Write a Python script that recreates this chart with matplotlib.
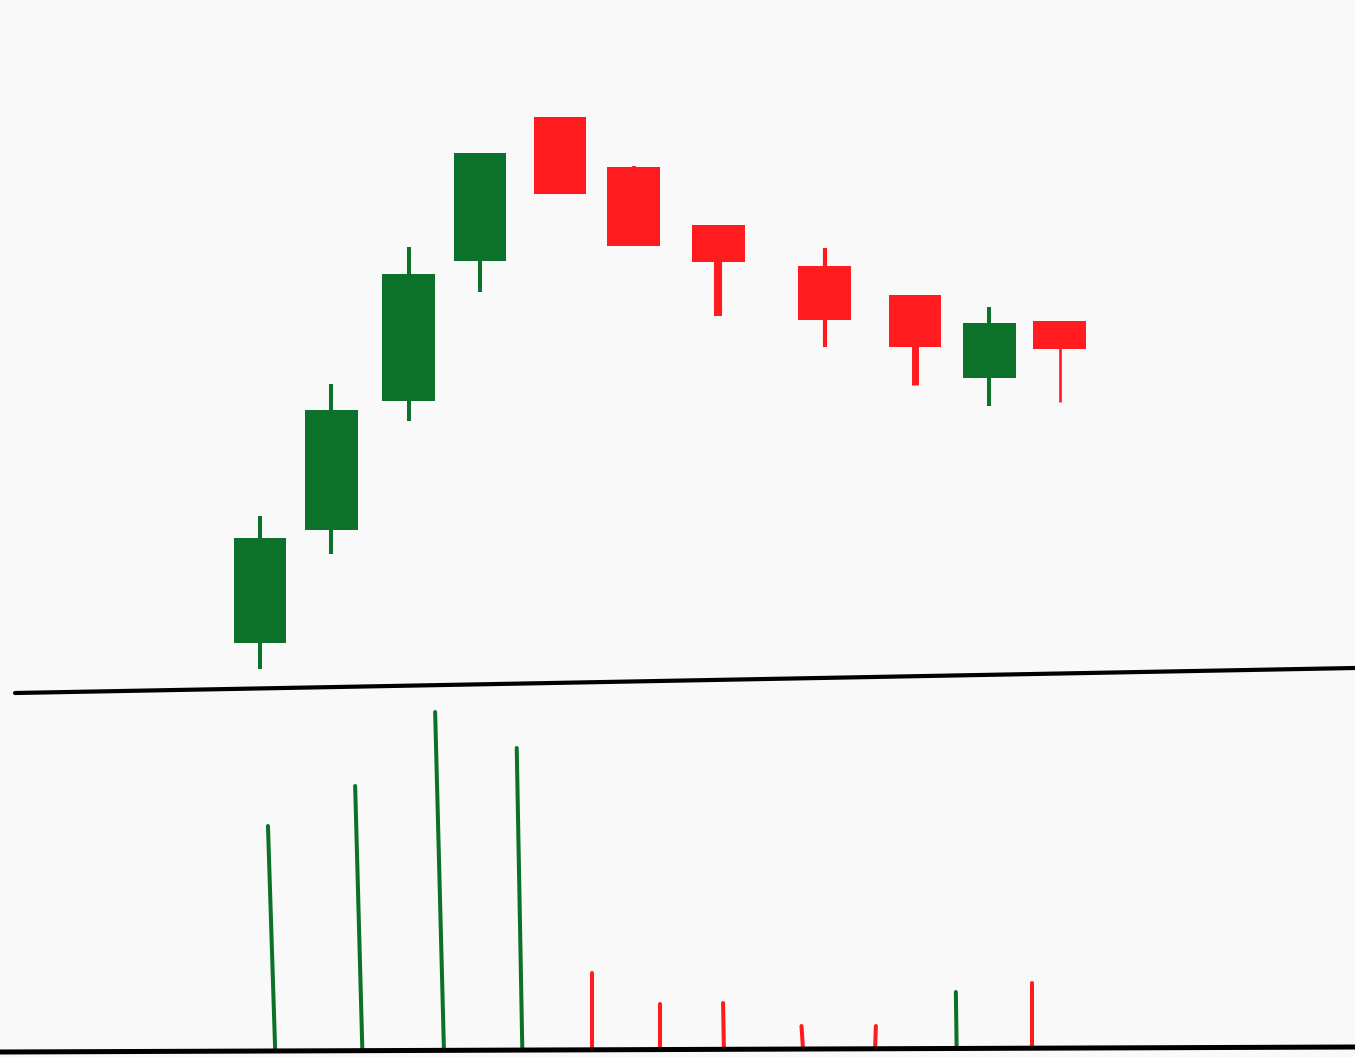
"""Candlestick chart with a volume panel underneath."""

import matplotlib

matplotlib.use("Agg")
import matplotlib.pyplot as plt
from matplotlib.collections import LineCollection
from matplotlib.lines import Line2D

GREEN = "#0c7229"
RED = "#ff1b1e"
BG = "#f9f9f9"

# session positions (in days) for the candles
price_x = [0.0, 0.89, 1.86, 2.75, 3.75, 4.67, 5.73, 7.06, 8.19, 9.12, 10.0]
# the volume sticks are drawn a little skewed: foot and tip positions
volume_x_foot = [0.19, 1.28, 2.30, 3.28, 4.15, 5.0, 5.8, 6.79, 7.69, 8.71, 9.65]
volume_x_tip = [0.10, 1.19, 2.19, 3.21, 4.15, 5.0, 5.79, 6.77, 7.70, 8.70, 9.65]

opens = [104.7, 116.0, 128.9, 142.9, 157.3, 152.3, 146.5, 142.4, 139.5, 131.2, 136.9]
highs = [117.4, 130.6, 144.3, 153.7, 157.3, 152.4, 146.5, 144.2, 139.5, 138.3, 136.9]
lows = [102.1, 113.6, 126.9, 139.8, 149.6, 144.4, 137.4, 134.3, 130.5, 128.4, 128.8]
closes = [115.2, 128.0, 141.6, 153.7, 149.6, 144.4, 142.8, 137.0, 134.3, 136.7, 134.1]

volumes = [2240, 2640, 3380, 3020, 770, 460, 470, 240, 240, 580, 670]

# wick thickness per candle (points), the hand-drawn look varies a bit
wick_widths = [2.9, 2.9, 2.9, 2.9, 2.9, 2.9, 5.8, 3.0, 5.0, 2.9, 1.9]

X_LIMITS = (-3.25, 13.69)

fig = plt.figure(figsize=(13.55, 10.57), dpi=100, facecolor=BG)

ax = fig.add_axes([0, 1 - 690 / 1057, 1, 690 / 1057])
ax.set_facecolor(BG)
ax.set_xlim(*X_LIMITS)
ax.set_ylim(100, 169)
ax.axis("off")

colors = [GREEN if c >= o else RED for o, c in zip(opens, closes)]

wicks = ax.vlines(price_x, lows, highs, colors=colors, linewidths=wick_widths, zorder=1)
wicks.set_capstyle("butt")

ax.bar(
    price_x,
    [abs(c - o) for o, c in zip(opens, closes)],
    bottom=[min(o, c) for o, c in zip(opens, closes)],
    width=0.66,
    color=colors,
    linewidth=0,
    zorder=2,
)

vax = fig.add_axes([0, 7 / 1057, 1, 350 / 1057])
vax.set_facecolor("none")
vax.set_xlim(*X_LIMITS)
vax.set_ylim(0, 3500)
vax.axis("off")
segments = [[(xf, 0), (xt, v)] for xf, xt, v in zip(volume_x_foot, volume_x_tip, volumes)]
vol_lines = LineCollection(segments, colors=colors, linewidths=2.9, capstyle="round")
vax.add_collection(vol_lines)

# the two separator rules
fig.add_artist(Line2D([15 / 1355, 1], [1 - 693 / 1057, 1 - 668 / 1057],
                      transform=fig.transFigure, color="black", linewidth=3.0,
                      solid_capstyle="round"))
fig.add_artist(Line2D([0, 1], [1 - 1052 / 1057, 1 - 1047 / 1057],
                      transform=fig.transFigure, color="black", linewidth=3.6))

fig.savefig("out.png", dpi=100, facecolor=BG)
